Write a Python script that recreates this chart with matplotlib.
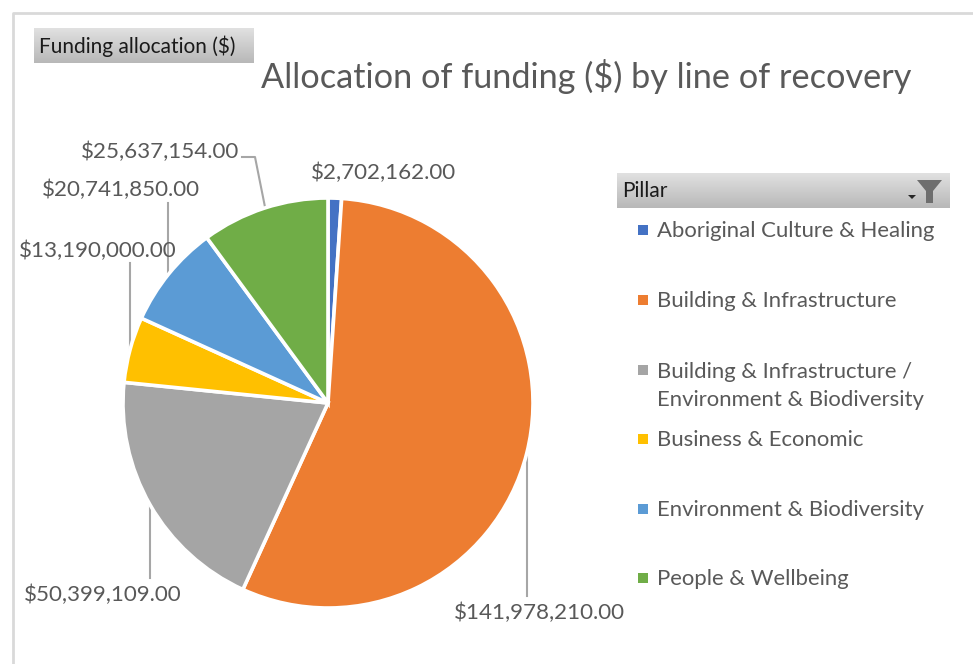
"""
Pie chart: allocation of funding ($) by line of recovery.
"""

import numpy as np
import matplotlib
matplotlib.use("Agg")
import matplotlib.pyplot as plt
from matplotlib.patches import Polygon, Rectangle

plt.rcParams['font.family'] = ['Lato', 'DejaVu Sans']

# Datos del grafico
pilares = [
    'Aboriginal Culture & Healing',
    'Building & Infrastructure',
    'Building & Infrastructure /\nEnvironment & Biodiversity',
    'Business & Economic',
    'Environment & Biodiversity',
    'People & Wellbeing',
]
valores = [2702162, 141978210, 50399109, 13190000, 20741850, 25637154]
colores = ['#4472C4', '#ED7D31', '#A5A5A5', '#FFC000', '#5B9BD5', '#70AD47']

titulo = 'Allocation of funding ($) by line of recovery'
boton_valor = 'Funding allocation ($)'
boton_campo = 'Pillar'

ANCHO, ALTO = 973, 664
GRIS_TEXTO = '#595959'
GRIS_LINEA = '#A6A6A6'


def barra_gris(ax, x0, x1, y0, y1):
    # Boton con degradado, como los de la tabla dinamica de Excel
    degradado = np.linspace(0.88, 0.72, 64).reshape(-1, 1)
    ax.imshow(degradado, extent=(x0, x1, y1, y0), cmap='gray', vmin=0, vmax=1,
              aspect='auto', zorder=2)


fig = plt.figure(figsize=(ANCHO / 100, ALTO / 100), dpi=100, facecolor='white')

# Capa en pixeles para todo lo que no es la tarta
ax = fig.add_axes([0, 0, 1, 1])
ax.set_xlim(0, ANCHO)
ax.set_ylim(ALTO, 0)
ax.axis('off')

# Marco del grafico
ax.plot([13, 13, ANCHO], [ALTO, 13, 13], color='#D9D9D9', lw=2, zorder=1)

# Tarta
cx, cy, radio = 328, 403, 205
ax_pie = fig.add_axes([(cx - radio) / ANCHO, (ALTO - cy - radio) / ALTO,
                       2 * radio / ANCHO, 2 * radio / ALTO])
ax_pie.pie(valores, colors=colores, startangle=90, counterclock=False, radius=1,
           wedgeprops={'edgecolor': 'white', 'linewidth': 2.6})
ax_pie.set_xlim(-1, 1)
ax_pie.set_ylim(-1, 1)

# Titulo y botones
ax.text(586, 76, titulo, ha='center', va='center', fontsize=24.65, color=GRIS_TEXTO)
barra_gris(ax, 34, 254, 28, 63)
ax.text(39, 46, boton_valor, ha='left', va='center', fontsize=15, color='#1A1A1A', zorder=3)
barra_gris(ax, 617, 950, 173, 208)
ax.text(622, 191, boton_campo, ha='left', va='center', fontsize=15, color='#1A1A1A', zorder=3)

# Icono del filtro
ax.add_patch(Polygon([(917, 180), (942, 180), (933, 191), (933, 203), (926, 203), (926, 191)],
                     closed=True, facecolor='#6E6E6E', edgecolor='none', zorder=3))
ax.add_patch(Polygon([(908, 195), (916, 195), (912, 199)],
                     closed=True, facecolor='#262626', edgecolor='none', zorder=3))

# Etiquetas de datos (x, y, alineacion), en el orden de los valores
pos_etiquetas = [
    (383, 173, 'center'),
    (539, 613, 'center'),
    (103, 595, 'center'),
    (98, 251, 'center'),
    (121, 190, 'center'),
    (160, 152, 'center'),
]
for v, (x, y, alin) in zip(valores, pos_etiquetas):
    ax.text(x, y, f'${v:,.2f}', ha=alin, va='center', fontsize=16.1,
            color=GRIS_TEXTO, zorder=5)

# Lineas guia de las etiquetas
guias = [
    ([527, 527], [453, 596]),
    ([150, 150], [505, 578]),
    ([130, 130], [263, 350]),
    ([168, 168], [203, 272]),
    ([242, 255, 265], [157, 157, 207]),
]
for xs, ys in guias:
    ax.plot(xs, ys, color=GRIS_LINEA, lw=1.5, zorder=4)

# Leyenda
pos_leyenda = [231, 301, 386, 440, 510, 579]
for nombre, color, y in zip(pilares, colores, pos_leyenda):
    marca_y = y - 15 if '\n' in nombre else y
    ax.add_patch(Rectangle((638, marca_y - 6), 10, 10, facecolor=color, edgecolor='none'))
    ax.text(657, y, nombre, ha='left', va='center', fontsize=15.9, color=GRIS_TEXTO,
            linespacing=1.55)

fig.savefig('out.png', dpi=100)
plt.close(fig)
